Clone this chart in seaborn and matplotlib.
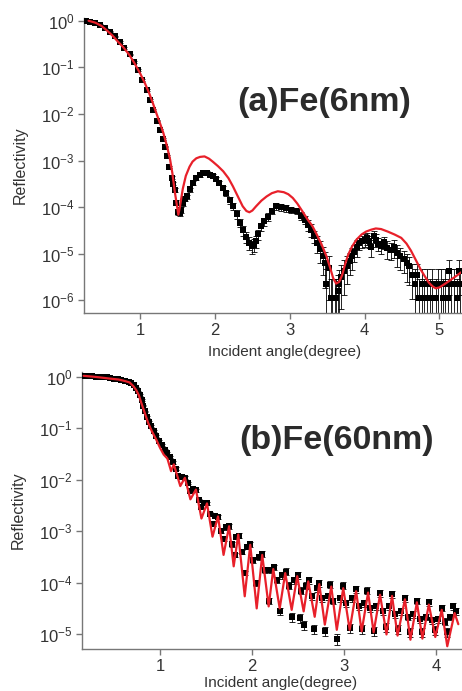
"""
X-ray reflectivity of Fe films (6 nm and 60 nm): measured points with
error bars and the fitted curve, two stacked log-scale panels.
"""

import matplotlib

matplotlib.use("Agg")

import matplotlib.pyplot as plt
import numpy as np
import seaborn as sns
from matplotlib.ticker import FixedLocator, NullLocator

# ---- (a) Fe 6 nm : measured -------------------------------------------
ANGLE_A = [
    0.28, 0.33, 0.39, 0.46, 0.53, 0.60, 0.66, 0.73, 0.79, 0.86,
    0.92, 0.97, 1.03, 1.09, 1.13, 1.17, 1.22, 1.26, 1.30, 1.33,
    1.36, 1.39, 1.42, 1.44, 1.46, 1.48, 1.50, 1.53, 1.55, 1.57,
    1.60, 1.62, 1.66, 1.71, 1.75, 1.80, 1.84, 1.89, 1.93, 1.97,
    2.02, 2.06, 2.11, 2.15, 2.20, 2.24, 2.29, 2.33, 2.38, 2.42,
    2.46, 2.49, 2.52, 2.55, 2.58, 2.62, 2.66, 2.71, 2.76, 2.82,
    2.88, 2.95, 3.02, 3.09, 3.15, 3.20, 3.25, 3.29, 3.33, 3.37,
    3.41, 3.44, 3.47, 3.49, 3.52, 3.55, 3.57, 3.60, 3.62, 3.64,
    3.66, 3.69, 3.73, 3.77, 3.80, 3.83, 3.86, 3.90, 3.93, 3.97,
    4.00, 4.03, 4.06, 4.09, 4.12, 4.15, 4.18, 4.22, 4.26, 4.30,
    4.35, 4.39, 4.44, 4.48, 4.53, 4.57, 4.60, 4.64, 4.67, 4.70,
    4.73, 4.77, 4.80, 4.84, 4.87, 4.90, 4.95, 4.98, 5.02, 5.05,
    5.08, 5.11, 5.13, 5.16, 5.20, 5.23, 5.26, 5.28,
]
REFL_A = [
    1.0, 0.95, 0.89, 0.81, 0.69, 0.58, 0.46, 0.35, 0.26, 0.19,
    0.13, 0.087, 0.054, 0.033, 0.020, 0.0123, 7.2e-3, 4.6e-3, 2.95e-3, 2.0e-3,
    1.26e-3, 7.4e-4, 4.3e-4, 3.2e-4, 2.3e-4, 1.26e-4, 7.9e-5, 7.6e-5, 8.9e-5, 1.23e-4,
    1.48e-4, 1.7e-4, 2.4e-4, 3.3e-4, 4.2e-4, 5.0e-4, 5.4e-4, 5.4e-4, 5.0e-4, 4.6e-4,
    4.0e-4, 3.3e-4, 2.6e-4, 2.0e-4, 1.41e-4, 1.05e-4, 7.1e-5, 4.6e-5, 3.2e-5, 2.3e-5,
    1.74e-5, 1.45e-5, 1.58e-5, 1.86e-5, 2.6e-5, 3.9e-5, 5.0e-5, 6.3e-5, 8.3e-5, 1.05e-4,
    1.0e-4, 9.5e-5, 8.9e-5, 8.3e-5, 6.6e-5, 5.4e-5, 4.2e-5, 3.3e-5, 2.4e-5, 1.7e-5,
    1.26e-5, 8.9e-6, 6.3e-6, 2.2e-6, 5.0e-6, 1.15e-6, 1.15e-6, 1.15e-6, 1.15e-6, 1.58e-6,
    2.2e-6, 3.2e-6, 4.3e-6, 5.6e-6, 6.9e-6, 8.9e-6, 1.12e-5, 1.41e-5, 1.7e-5, 1.9e-5,
    2.0e-5, 2.2e-5, 1.86e-5, 1.41e-5, 2.4e-5, 2.0e-5, 1.66e-5, 1.45e-5, 1.78e-5, 1.32e-5,
    1.23e-5, 1.38e-5, 1.05e-5, 8.9e-6, 7.6e-6, 6.3e-6, 5.4e-6, 3.5e-6, 2.2e-6, 3.5e-6,
    1.15e-6, 2.2e-6, 1.15e-6, 2.2e-6, 1.15e-6, 2.2e-6, 1.15e-6, 2.2e-6, 2.2e-6, 1.15e-6,
    2.2e-6, 1.15e-6, 4.3e-6, 2.2e-6, 2.2e-6, 1.15e-6, 4.3e-6, 2.2e-6,
]
# relative error of each measured point
ERR_A = [
    0.03, 0.03, 0.03, 0.03, 0.03, 0.03, 0.03, 0.03, 0.03, 0.03,
    0.04, 0.04, 0.04, 0.04, 0.04, 0.04, 0.04, 0.04, 0.04, 0.04,
    0.06, 0.06, 0.08, 0.08, 0.10, 0.12, 0.15, 0.15, 0.15, 0.12,
    0.10, 0.10, 0.10, 0.10, 0.10, 0.10, 0.10, 0.10, 0.10, 0.10,
    0.10, 0.10, 0.12, 0.12, 0.15, 0.15, 0.20, 0.20, 0.25, 0.25,
    0.30, 0.30, 0.30, 0.30, 0.25, 0.20, 0.20, 0.20, 0.15, 0.15,
    0.15, 0.15, 0.15, 0.15, 0.20, 0.20, 0.25, 0.30, 0.30, 0.40,
    0.50, 0.60, 0.70, 1.20, 0.80, 1.50, 1.50, 1.50, 1.50, 1.20,
    1.00, 0.80, 0.70, 0.60, 0.50, 0.50, 0.40, 0.40, 0.30, 0.30,
    0.30, 0.30, 0.30, 0.40, 0.30, 0.30, 0.30, 0.30, 0.30, 0.40,
    0.40, 0.40, 0.50, 0.50, 0.50, 0.60, 0.60, 0.70, 1.20, 0.70,
    1.50, 1.20, 1.50, 1.20, 1.50, 1.20, 1.50, 1.20, 1.20, 1.50,
    1.20, 1.50, 0.70, 1.20, 1.20, 1.50, 0.70, 1.20,
]

# ---- (a) Fe 6 nm : fit --------------------------------------------------
FIT_ANGLE_A = [
    0.31, 0.40, 0.48, 0.55, 0.63, 0.70, 0.77, 0.85, 0.92, 1.00,
    1.06, 1.12, 1.17, 1.22, 1.27, 1.31, 1.36, 1.40, 1.43, 1.46,
    1.49, 1.51, 1.53, 1.57, 1.61, 1.66, 1.70, 1.75, 1.80, 1.86,
    1.92, 1.97, 2.04, 2.11, 2.18, 2.24, 2.30, 2.37, 2.42, 2.46,
    2.50, 2.55, 2.62, 2.69, 2.76, 2.84, 2.92, 2.98, 3.04, 3.10,
    3.17, 3.24, 3.30, 3.35, 3.42, 3.49, 3.54, 3.58, 3.62, 3.66,
    3.70, 3.74, 3.78, 3.83, 3.89, 3.96, 4.02, 4.09, 4.15, 4.22,
    4.31, 4.40, 4.49, 4.56, 4.62, 4.69, 4.75, 4.81, 4.86, 4.91,
    4.95, 5.00, 5.08, 5.15, 5.22, 5.29,
]
FIT_REFL_A = [
    1.0, 0.91, 0.78, 0.63, 0.48, 0.36, 0.275, 0.19, 0.126, 0.074,
    0.047, 0.028, 0.017, 0.010, 6.0e-3, 3.9e-3, 2.0e-3, 1.05e-3, 5.4e-4, 2.3e-4,
    1.12e-4, 6.9e-5, 1.0e-4, 2.5e-4, 4.7e-4, 7.4e-4, 9.5e-4, 1.12e-3, 1.2e-3, 1.23e-3,
    1.1e-3, 9.5e-4, 7.6e-4, 5.9e-4, 4.2e-4, 2.8e-4, 1.78e-4, 1.05e-4, 8.3e-5, 7.8e-5,
    8.5e-5, 1.05e-4, 1.38e-4, 1.7e-4, 2.0e-4, 2.2e-4, 2.1e-4, 1.9e-4, 1.58e-4, 1.2e-4,
    8.1e-5, 5.4e-5, 4.0e-5, 2.8e-5, 1.66e-5, 8.9e-6, 5.0e-6, 3.0e-6, 2.3e-6, 2.5e-6,
    3.5e-6, 6.0e-6, 9.5e-6, 1.41e-5, 2.0e-5, 2.6e-5, 3.0e-5, 3.3e-5, 3.5e-5, 3.4e-5,
    3.0e-5, 2.6e-5, 2.2e-5, 1.66e-5, 1.17e-5, 7.1e-6, 4.6e-6, 3.2e-6, 2.4e-6, 2.0e-6,
    1.82e-6, 1.9e-6, 2.3e-6, 2.75e-6, 3.3e-6, 4.0e-6,
]

# ---- (b) Fe 60 nm : measured ------------------------------------------
ANGLE_B = [
    0.18, 0.22, 0.26, 0.30, 0.34, 0.38, 0.42, 0.46, 0.50, 0.54,
    0.58, 0.62, 0.66, 0.69, 0.72, 0.74, 0.76, 0.78, 0.80, 0.82,
    0.84, 0.86, 0.88, 0.90, 0.93, 0.96, 0.99, 1.02, 1.05, 1.08,
    1.11, 1.14, 1.17, 1.20, 1.24, 1.27, 1.30, 1.33, 1.36, 1.39,
    1.42, 1.45, 1.48, 1.51, 1.54, 1.57, 1.60, 1.63, 1.66, 1.69,
    1.72, 1.75, 1.78, 1.81, 1.83, 1.86, 1.89, 1.92, 1.95, 1.98,
    2.01, 2.04, 2.08, 2.11, 2.14, 2.18, 2.21, 2.24, 2.27, 2.30,
    2.33, 2.37, 2.40, 2.43, 2.46, 2.50, 2.52, 2.53, 2.56, 2.59,
    2.62, 2.65, 2.67, 2.70, 2.73, 2.76, 2.79, 2.82, 2.85, 2.88,
    2.92, 2.95, 2.99, 3.02, 3.06, 3.09, 3.13, 3.16, 3.19, 3.22,
    3.25, 3.28, 3.32, 3.35, 3.39, 3.42, 3.45, 3.49, 3.52, 3.55,
    3.58, 3.62, 3.66, 3.69, 3.72, 3.75, 3.79, 3.82, 3.85, 3.89,
    3.92, 3.95, 3.99, 4.02, 4.06, 4.09, 4.12, 4.15, 4.18, 4.21,
]
REFL_B = [
    1.05, 1.03, 1.02, 1.01, 1.0, 0.99, 0.98, 0.955, 0.93, 0.91,
    0.89, 0.85, 0.81, 0.76, 0.69, 0.62, 0.525, 0.447, 0.355, 0.275,
    0.214, 0.166, 0.135, 0.112, 0.089, 0.071, 0.056, 0.047, 0.038, 0.033,
    0.028, 0.0219, 0.0166, 0.0120, 0.0115, 0.0110, 8.7e-3, 6.0e-3, 6.6e-3, 6.3e-3,
    4.0e-3, 3.0e-3, 3.6e-3, 3.5e-3, 2.2e-3, 1.41e-3, 2.0e-3, 1.9e-3, 1.0e-3, 7.1e-4,
    1.2e-3, 1.26e-3, 5.6e-4, 3.5e-4, 7.9e-4, 8.3e-4, 4.0e-4, 1.58e-4, 5.0e-4, 5.6e-4,
    2.8e-4, 1.0e-4, 3.2e-4, 3.7e-4, 1.78e-4, 4.5e-5, 1.78e-4, 2.0e-4, 1.12e-4, 2.8e-5,
    1.41e-4, 1.66e-4, 8.9e-5, 2.2e-5, 1.12e-4, 1.41e-4, 2.1e-5, 7.1e-5, 1.51e-5, 8.9e-5,
    1.12e-4, 5.6e-5, 1.26e-5, 7.9e-5, 1.0e-4, 5.0e-5, 1.17e-5, 5.6e-5, 9.3e-5, 4.5e-5,
    8.3e-6, 5.0e-5, 8.9e-5, 4.0e-5, 1.32e-5, 5.0e-5, 7.6e-5, 3.5e-5, 1.26e-5, 4.0e-5,
    7.1e-5, 3.2e-5, 1.17e-5, 3.5e-5, 6.3e-5, 2.8e-5, 1.41e-5, 3.5e-5, 6.0e-5, 2.5e-5,
    1.26e-5, 2.8e-5, 5.0e-5, 2.2e-5, 1.12e-5, 2.5e-5, 4.5e-5, 2.0e-5, 1.12e-5, 2.2e-5,
    4.2e-5, 1.9e-5, 1.2e-5, 2.0e-5, 3.3e-5, 1.78e-5, 1.12e-5, 2.2e-5, 3.5e-5, 2.8e-5,
]
ERR_B = [
    0.03, 0.03, 0.03, 0.03, 0.03, 0.03, 0.03, 0.03, 0.03, 0.03,
    0.03, 0.03, 0.03, 0.03, 0.03, 0.03, 0.03, 0.03, 0.03, 0.03,
    0.04, 0.04, 0.04, 0.04, 0.05, 0.05, 0.05, 0.05, 0.05, 0.05,
    0.06, 0.06, 0.06, 0.06, 0.06, 0.06, 0.06, 0.06, 0.06, 0.06,
    0.08, 0.08, 0.08, 0.08, 0.08, 0.08, 0.08, 0.08, 0.08, 0.08,
    0.10, 0.10, 0.10, 0.10, 0.10, 0.10, 0.10, 0.10, 0.10, 0.10,
    0.12, 0.12, 0.12, 0.12, 0.12, 0.15, 0.12, 0.12, 0.12, 0.15,
    0.15, 0.15, 0.15, 0.20, 0.15, 0.15, 0.20, 0.15, 0.20, 0.15,
    0.15, 0.15, 0.20, 0.15, 0.15, 0.15, 0.20, 0.15, 0.15, 0.15,
    0.25, 0.15, 0.15, 0.15, 0.20, 0.15, 0.15, 0.15, 0.20, 0.15,
    0.15, 0.15, 0.20, 0.15, 0.15, 0.15, 0.20, 0.15, 0.15, 0.15,
    0.20, 0.15, 0.15, 0.15, 0.20, 0.15, 0.15, 0.15, 0.20, 0.15,
    0.15, 0.15, 0.20, 0.15, 0.15, 0.15, 0.20, 0.15, 0.15, 0.15,
]

# ---- (b) Fe 60 nm : fit -------------------------------------------------
FIT_ANGLE_B = [
    0.17, 0.30, 0.45, 0.55, 0.62, 0.67, 0.71, 0.74, 0.77, 0.80,
    0.83, 0.87, 0.91, 0.96, 1.00, 1.04, 1.08, 1.12, 1.15, 1.22,
    1.27, 1.33, 1.39, 1.45, 1.51, 1.57, 1.63, 1.69, 1.75, 1.80,
    1.85, 1.92, 1.98, 2.05, 2.11, 2.18, 2.23, 2.30, 2.36, 2.43,
    2.49, 2.56, 2.61, 2.68, 2.73, 2.79, 2.86, 2.92, 2.99, 3.06,
    3.13, 3.19, 3.26, 3.32, 3.39, 3.46, 3.52, 3.58, 3.66, 3.72,
    3.79, 3.85, 3.92, 3.99, 4.06, 4.12, 4.20, 4.24,
]
FIT_REFL_B = [
    1.05, 1.0, 0.93, 0.89, 0.83, 0.78, 0.66, 0.56, 0.44, 0.30,
    0.21, 0.129, 0.089, 0.060, 0.042, 0.031, 0.026, 0.0148, 0.020, 7.6e-3,
    0.011, 4.2e-3, 6.5e-3, 1.78e-3, 3.5e-3, 7.9e-4, 1.95e-3, 3.5e-4, 1.26e-3, 2.1e-4,
    8.7e-4, 5.5e-5, 5.5e-4, 3.2e-5, 3.5e-4, 3.5e-5, 1.86e-4, 3.2e-5, 1.55e-4, 3.0e-5,
    1.35e-4, 2.8e-5, 1.07e-4, 2.2e-5, 9.5e-5, 1.55e-5, 8.5e-5, 1.23e-5, 7.9e-5, 1.23e-5,
    6.9e-5, 1.15e-5, 6.5e-5, 1.1e-5, 5.9e-5, 1.0e-5, 5.6e-5, 9.5e-6, 4.8e-5, 7.9e-6,
    4.2e-5, 8.3e-6, 3.8e-5, 8.9e-6, 3.0e-5, 5.9e-6, 2.6e-5, 1.58e-5,
]

TITLE_A: str = "(a)Fe(6nm)"
TITLE_B: str = "(b)Fe(60nm)"
X_LABEL: str = "Incident angle(degree)"
Y_LABEL: str = "Reflectivity"

FIT_COLOR: str = "#e8202a"
TEXT_COLOR: str = "#333333"
SPINE_COLOR: str = "#777777"


def style_axis(ax, xlim, ylim, xticks, yticks, xlabel_pos):
    """Log y axis, only left and bottom spines, outward ticks."""
    ax.set_yscale("log")
    ax.set_xlim(*xlim)
    ax.set_ylim(*ylim)
    ax.xaxis.set_major_locator(FixedLocator(xticks))
    ax.yaxis.set_major_locator(FixedLocator(yticks))
    ax.yaxis.set_minor_locator(NullLocator())
    ax.xaxis.set_minor_locator(NullLocator())
    sns.despine(ax=ax)
    for side in ("left", "bottom"):
        ax.spines[side].set_color(SPINE_COLOR)
        ax.spines[side].set_linewidth(1.0)
    ax.tick_params(
        direction="out", length=4, width=1.0, color=SPINE_COLOR,
        labelsize=12, labelcolor=TEXT_COLOR, pad=3,
    )
    ax.set_xlabel(X_LABEL, fontsize=11, color=TEXT_COLOR)
    ax.set_ylabel(Y_LABEL, fontsize=11.5, color=TEXT_COLOR)
    ax.xaxis.set_label_coords(*xlabel_pos)
    ax.yaxis.set_label_coords(-0.15, 0.5)


def draw_panel(ax, angle, refl, rel_err, fit_angle, fit_refl):
    """Measured squares with error bars plus the red fitted curve."""
    refl = np.asarray(refl)
    err = refl * np.asarray(rel_err)
    lower = np.minimum(err, refl * 0.98)
    ax.errorbar(
        angle, refl, yerr=[lower, err], fmt="none",
        ecolor="black", elinewidth=0.6, capsize=2, capthick=0.6, zorder=2,
    )
    sns.scatterplot(
        x=angle, y=refl, marker="s", s=24, color="black",
        linewidth=0, ax=ax, zorder=3,
    )
    sns.lineplot(
        x=fit_angle, y=fit_refl, color=FIT_COLOR, linewidth=1.6,
        sort=False, estimator=None, ax=ax, zorder=4,
    )


def create_reflectivity_figure() -> None:
    sns.set_style("ticks")
    plt.rcParams["font.family"] = ["Liberation Sans", "DejaVu Sans"]

    fig = plt.figure(figsize=(4.62, 6.91), dpi=100)
    ax_a = fig.add_axes([0.182, 0.547, 0.816, 0.427])
    ax_b = fig.add_axes([0.178, 0.061, 0.820, 0.401])

    decades_a = [1e-6, 1e-5, 1e-4, 1e-3, 1e-2, 1e-1, 1e0]
    decades_b = [1e-5, 1e-4, 1e-3, 1e-2, 1e-1, 1e0]

    style_axis(ax_a, (0.25, 5.29), (10 ** -6.27, 10 ** 0.06),
               [1, 2, 3, 4, 5], decades_a, (0.533, -0.108))
    style_axis(ax_b, (0.155, 4.27), (10 ** -5.28, 10 ** 0.1),
               [1, 2, 3, 4], decades_b, (0.523, -0.098))

    draw_panel(ax_a, ANGLE_A, REFL_A, ERR_A, FIT_ANGLE_A, FIT_REFL_A)
    draw_panel(ax_b, ANGLE_B, REFL_B, ERR_B, FIT_ANGLE_B, FIT_REFL_B)

    fig.text(0.701, 0.852, TITLE_A, fontsize=24.5, fontweight="bold",
             color="#2b2b2b", ha="center", va="center")
    fig.text(0.729, 0.363, TITLE_B, fontsize=24.5, fontweight="bold",
             color="#2b2b2b", ha="center", va="center")

    fig.savefig("out.png", dpi=100)


if __name__ == "__main__":
    create_reflectivity_figure()
